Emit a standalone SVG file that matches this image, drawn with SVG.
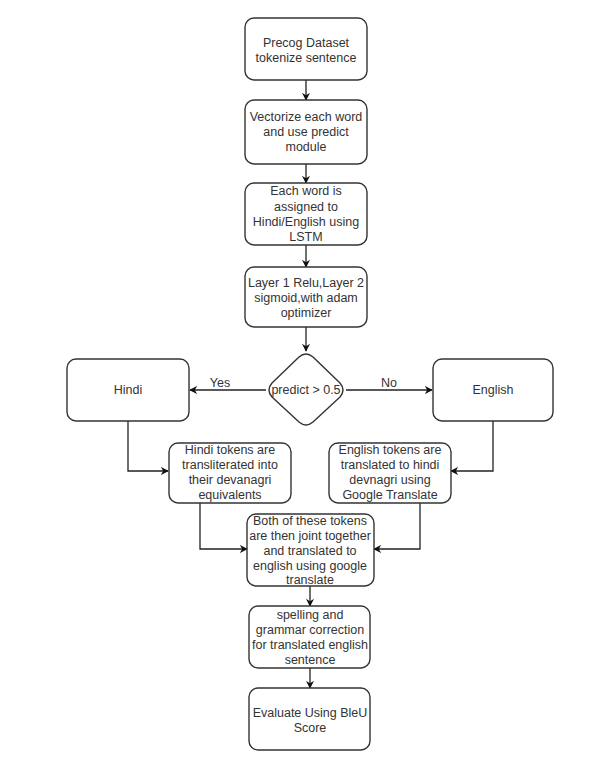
<svg xmlns="http://www.w3.org/2000/svg" width="592" height="762" viewBox="0 0 592 762">
<style>
.box{fill:#fff;stroke:#333;stroke-width:1.4}
.t{font-family:"Liberation Sans",Arial,sans-serif;font-size:12.5px;fill:#333;text-anchor:middle;dominant-baseline:central}
.c{fill:none;stroke:#222;stroke-width:1.3}
</style>
<defs>
<marker id="ah" viewBox="0 0 10 10" refX="9" refY="5" markerWidth="8" markerHeight="8" markerUnits="userSpaceOnUse" orient="auto">
<path d="M0,0 L10,5 L0,10 L3,5 Z" fill="#111"/>
</marker>
</defs>
<rect width="592" height="762" fill="#fff"/>
<g id="connectors">
<path class="c" d="M306,80 V100" marker-end="url(#ah)"/>
<path class="c" d="M306,164 V183" marker-end="url(#ah)"/>
<path class="c" d="M306,245 V267" marker-end="url(#ah)"/>
<path class="c" d="M306,327 V351" marker-end="url(#ah)"/>
<path class="c" d="M266,390 H190" marker-end="url(#ah)"/>
<path class="c" d="M346,390 H432" marker-end="url(#ah)"/>
<path class="c" d="M128,421 V471 H168" marker-end="url(#ah)"/>
<path class="c" d="M493,421 V471 H451" marker-end="url(#ah)"/>
<path class="c" d="M200,503 V549 H247" marker-end="url(#ah)"/>
<path class="c" d="M420,503 V549 H374" marker-end="url(#ah)"/>
<path class="c" d="M310,586 V606" marker-end="url(#ah)"/>
<path class="c" d="M310,668 V688" marker-end="url(#ah)"/>
<text class="t" x="220" y="383">Yes</text>
<text class="t" x="389" y="383">No</text>
</g>
<g id="n1"><rect class="box" x="245" y="18" width="122" height="62" rx="9"/>
<text class="t" x="306" y="43">Precog Dataset</text><text class="t" x="306" y="58">tokenize sentence</text></g>
<g id="n2"><rect class="box" x="245" y="100" width="122" height="64" rx="9"/>
<text class="t" x="306" y="117">Vectorize each word</text><text class="t" x="306" y="132">and use predict</text><text class="t" x="306" y="147">module</text></g>
<g id="n3"><rect class="box" x="245" y="183" width="122" height="62" rx="9"/>
<text class="t" x="306" y="191">Each word is</text><text class="t" x="306" y="207">assigned to</text><text class="t" x="306" y="222">Hindi/English using</text><text class="t" x="306" y="237">LSTM</text></g>
<g id="n4"><rect class="box" x="245" y="267" width="122" height="60" rx="9"/>
<text class="t" x="306" y="283">Layer 1 Relu,Layer 2</text><text class="t" x="306" y="298">sigmoid,with adam</text><text class="t" x="306" y="313">optimizer</text></g>
<g id="decision"><path class="box" d="M299,357 Q306,351 313,357 L340,383 Q346,390 340,397 L313,422 Q306,428 299,422 L272,397 Q266,390 272,383 Z" stroke-linejoin="round"/>
<text class="t" x="306" y="390">predict &gt; 0.5</text></g>
<g id="hindi"><rect class="box" x="67" y="359" width="122" height="62" rx="9"/>
<text class="t" x="128" y="390">Hindi</text></g>
<g id="english"><rect class="box" x="433" y="359" width="120" height="62" rx="9"/>
<text class="t" x="493" y="390">English</text></g>
<g id="hindiTok"><rect class="box" x="169" y="443" width="122" height="60" rx="9"/>
<text class="t" x="230" y="450">Hindi tokens are</text><text class="t" x="230" y="465">transliterated into</text><text class="t" x="230" y="480">their devanagri</text><text class="t" x="230" y="495">equivalents</text></g>
<g id="engTok"><rect class="box" x="329" y="443" width="122" height="60" rx="9"/>
<text class="t" x="390" y="450">English tokens are</text><text class="t" x="390" y="465">translated to hindi</text><text class="t" x="390" y="480">devnagri using</text><text class="t" x="390" y="495">Google Translate</text></g>
<g id="both"><rect class="box" x="247" y="514" width="127" height="72" rx="9"/>
<text class="t" x="310" y="521">Both of these tokens</text><text class="t" x="310" y="536">are then joint together</text><text class="t" x="310" y="551">and translated to</text><text class="t" x="310" y="566">english using google</text><text class="t" x="310" y="580">translate</text></g>
<g id="spell"><rect class="box" x="249" y="606" width="121" height="62" rx="9"/>
<text class="t" x="310" y="615">spelling and</text><text class="t" x="310" y="630">grammar correction</text><text class="t" x="310" y="645">for translated english</text><text class="t" x="310" y="660">sentence</text></g>
<g id="eval"><rect class="box" x="249" y="688" width="121" height="62" rx="9"/>
<text class="t" x="310" y="713">Evaluate Using BleU</text><text class="t" x="310" y="728">Score</text></g>
</svg>
